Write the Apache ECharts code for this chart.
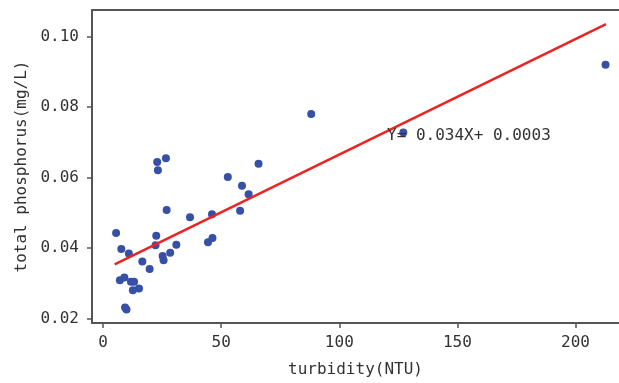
<!DOCTYPE html>
<html>
<head>
<meta charset="utf-8">
<script src="https://cdn.jsdelivr.net/npm/echarts@6/dist/echarts.min.js"></script>
<style>
html,body{margin:0;padding:0;background:#fff;}
#chart{width:619px;height:383px;}
</style>
</head>
<body>
<div id="chart"></div>
<script>
// Data
var turbidity = [5.5, 7.7, 7.1, 9.0, 10.9, 11.8, 13.1, 12.6, 15.2, 9.3, 9.9, 16.6, 19.7, 22.2, 22.5, 22.9, 23.2, 26.6, 26.9, 25.2, 25.6, 28.4, 31.0, 36.8, 46.1, 44.4, 46.3, 52.8, 58.8, 61.6, 58.0, 65.8, 88.1, 127.1, 212.7];
var phosphorus = [0.0443, 0.0398, 0.0309, 0.0317, 0.0385, 0.0305, 0.0305, 0.0281, 0.0286, 0.0232, 0.0226, 0.0362, 0.0341, 0.0408, 0.0435, 0.0644, 0.0621, 0.0655, 0.0508, 0.0378, 0.0366, 0.0387, 0.0410, 0.0488, 0.0496, 0.0417, 0.0429, 0.0602, 0.0577, 0.0553, 0.0506, 0.0639, 0.0780, 0.0728, 0.0920];
var trendX = [4.9, 212.9];
var trendY = [0.0354, 0.1035];
var xTicks = [0, 50, 100, 150, 200];
var yTicks = [0.02, 0.04, 0.06, 0.08, 0.10];
var equationText = 'Y= 0.034X+ 0.0003';
var xName = 'turbidity(NTU)';
var yName = 'total phosphorus(mg/L)';

var FONT = '"DejaVu Sans Mono", "Liberation Mono", monospace';
var TXT = '#333333';
var AX = '#555555';

var scatterData = turbidity.map(function (x, i) { return [x, phosphorus[i]]; });
var lineData = trendX.map(function (x, i) { return [x, trendY[i]]; });

var chart = echarts.init(document.getElementById('chart'), null, {renderer: 'canvas'});
chart.setOption({
  animation: false,
  backgroundColor: '#ffffff',
  grid: {left: 92, right: 0, top: 10, bottom: 57, containLabel: false},
  xAxis: [{
    type: 'value',
    min: -4.7, max: 218.4,
    name: xName,
    nameLocation: 'middle',
    nameGap: 39,
    nameTextStyle: {fontFamily: FONT, fontSize: 16, color: TXT},
    splitLine: {show: false},
    axisLine: {show: true, onZero: false, lineStyle: {color: AX, width: 2}},
    axisTick: {show: true, length: 5, customValues: xTicks, lineStyle: {color: AX, width: 1.5}},
    axisLabel: {customValues: xTicks, margin: 12, fontFamily: FONT, fontSize: 16, color: TXT}
  }, {
    type: 'value',
    position: 'top',
    min: -4.7, max: 218.4,
    splitLine: {show: false},
    axisLine: {show: true, onZero: false, lineStyle: {color: AX, width: 2}},
    axisTick: {show: false},
    axisLabel: {show: false}
  }],
  yAxis: {
    type: 'value',
    min: 0.0188, max: 0.1075,
    name: yName,
    nameLocation: 'middle',
    nameGap: 62,
    nameTextStyle: {fontFamily: FONT, fontSize: 16, color: TXT},
    splitLine: {show: false},
    axisLine: {show: true, onZero: false, lineStyle: {color: AX, width: 2}},
    axisTick: {show: true, length: 5, customValues: yTicks, lineStyle: {color: AX, width: 1.5}},
    axisLabel: {
      customValues: yTicks, margin: 13, fontFamily: FONT, fontSize: 16, color: TXT,
      formatter: function (v) { return v.toFixed(2); }
    }
  },
  series: [{
    type: 'scatter',
    data: scatterData,
    symbol: 'circle',
    symbolSize: 8,
    itemStyle: {color: '#3550a6', opacity: 1},
    z: 2
  }, {
    type: 'line',
    data: lineData,
    showSymbol: false,
    symbol: 'none',
    lineStyle: {color: '#ee2222', width: 2.5},
    z: 3
  }],
  graphic: [{
    type: 'text',
    left: 387,
    top: 128,
    z: 10,
    style: {text: equationText, fontFamily: FONT, fontSize: 16, fill: TXT}
  }]
});
</script>
</body>
</html>
